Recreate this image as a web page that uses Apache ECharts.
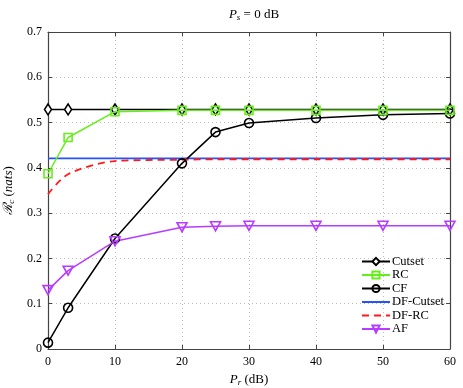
<!DOCTYPE html>
<html>
<head>
<meta charset="utf-8">
<script src="https://cdn.jsdelivr.net/npm/echarts@6/dist/echarts.min.js"></script>
<style>
  html, body { margin: 0; padding: 0; background: #fff; }
  #chart { width: 463px; height: 388px; }
</style>
</head>
<body>
<div id="chart"></div>
<script>
// P_r (dB) sample points
var pr = [0, 3, 10, 20, 25, 30, 40, 50, 60];
var cutset = [0.529, 0.529, 0.529, 0.529, 0.529, 0.529, 0.529, 0.529, 0.529];
var rc = [0.387, 0.467, 0.524, 0.527, 0.527, 0.527, 0.527, 0.527, 0.527];
var cf = [0.014, 0.091, 0.244, 0.410, 0.479, 0.499, 0.510, 0.517, 0.520];
var dfCutset = [0.421, 0.421, 0.421, 0.421, 0.421, 0.421, 0.421, 0.421, 0.421];
var dfRc = [0.342, 0.386, 0.415, 0.418, 0.419, 0.419, 0.419, 0.419, 0.419];
var af = [0.130, 0.173, 0.238, 0.269, 0.271, 0.272, 0.272, 0.272, 0.272];
var xTicks = [0, 10, 20, 30, 40, 50, 60];
var yTicks = [0, 0.1, 0.2, 0.3, 0.4, 0.5, 0.6, 0.7];

function pairs(ys) {
  return pr.map(function (x, i) { return [x, ys[i]]; });
}

var serif = 'Liberation Serif';
var axisCol = '#444';

var chart = echarts.init(document.getElementById('chart'));

function yFmt(v) {
  if (Math.abs(v) < 1e-9) return '0';
  return v.toFixed(1);
}

var richMath = {
  i: { fontFamily: serif, fontStyle: 'italic', fontSize: 13, color: '#000' },
  s: { fontFamily: serif, fontStyle: 'italic', fontSize: 9, color: '#000', padding: [6, 0, 0, 0] },
  n: { fontFamily: serif, fontSize: 13, color: '#000' }
};

var option = {
  animation: false,
  backgroundColor: '#fff',
  title: {
    text: '{i|P}{s|s}{n| = 0 dB}',
    left: 249,
    top: 2,
    textAlign: 'center',
    textStyle: { fontWeight: 'normal', rich: richMath }
  },
  grid: { left: 48, right: 13, top: 32, bottom: 39, outerBoundsMode: 'none', containLabel: false },
  legend: {
    orient: 'vertical',
    left: 356,
    top: 250,
    itemWidth: 28,
    itemHeight: 9,
    itemGap: 0.5,
    textStyle: { fontFamily: serif, fontSize: 12.5, lineHeight: 12, color: '#000', padding: [0, 0, 0, -3] },
    data: [
      'Cutset', 'RC', 'CF',
      { name: 'DF-Cutset', itemStyle: { opacity: 0 } },
      { name: 'DF-RC', itemStyle: { opacity: 0 } },
      'AF'
    ]
  },
  xAxis: [{
    type: 'value', min: 0, max: 60, interval: 10,
    name: '{i|P}{s|r}{n| (dB)}',
    nameLocation: 'middle', nameGap: 22,
    nameTextStyle: { rich: richMath },
    axisLine: { onZero: false, lineStyle: { color: axisCol, width: 1.2 } },
    axisTick: { inside: true, length: 4, lineStyle: { color: axisCol } },
    axisLabel: { fontFamily: serif, fontSize: 12, color: '#000', margin: 7 },
    splitLine: { show: true, lineStyle: { color: '#bbb', type: [1, 3] } }
  }, {
    type: 'value', min: 0, max: 60, interval: 10, position: 'top',
    axisLine: { onZero: false, lineStyle: { color: axisCol, width: 1.2 } },
    axisTick: { inside: true, length: 4, lineStyle: { color: axisCol } },
    axisLabel: { show: false },
    splitLine: { show: false }
  }],
  yAxis: [{
    type: 'value', min: 0, max: 0.7, interval: 0.1,
    name: '{i|\u211B}{s|c}{n| (}{i|nats}{n|)}',
    nameLocation: 'middle', nameGap: 28, nameRotate: 90,
    nameTextStyle: { rich: richMath },
    axisLine: { onZero: false, lineStyle: { color: axisCol, width: 1.2 } },
    axisTick: { inside: true, length: 4, lineStyle: { color: axisCol } },
    axisLabel: { fontFamily: serif, fontSize: 12, color: '#000', margin: 6, formatter: yFmt },
    splitLine: { show: true, lineStyle: { color: '#bbb', type: [1, 3] } }
  }, {
    type: 'value', min: 0, max: 0.7, interval: 0.1, position: 'right',
    axisLine: { show: true, onZero: false, lineStyle: { color: axisCol, width: 1.2 } },
    axisTick: { show: true, inside: true, length: 4, lineStyle: { color: axisCol } },
    axisLabel: { show: false },
    splitLine: { show: false }
  }],
  series: [
    {
      name: 'Cutset', type: 'line', data: pairs(cutset),
      symbol: 'diamond', symbolSize: [7, 11],
      itemStyle: { color: '#fff', borderColor: '#000', borderWidth: 1.6 },
      lineStyle: { color: '#000', width: 1.5 }, z: 3
    },
    {
      name: 'RC', type: 'line', data: pairs(rc),
      symbol: 'rect', symbolSize: 8,
      itemStyle: { color: 'rgba(255,255,255,0)', borderColor: '#66ee1a', borderWidth: 1.6 },
      lineStyle: { color: '#66ee1a', width: 1.5 }, z: 4
    },
    {
      name: 'CF', type: 'line', data: pairs(cf),
      symbol: 'circle', symbolSize: 9,
      itemStyle: { color: 'rgba(255,255,255,0)', borderColor: '#000', borderWidth: 1.6 },
      lineStyle: { color: '#000', width: 1.5 }, z: 3
    },
    {
      name: 'DF-Cutset', type: 'line', data: pairs(dfCutset),
      symbol: 'none', showSymbol: false,
      itemStyle: { color: '#2255ff' },
      lineStyle: { color: '#2255ff', width: 1.8 }, z: 2
    },
    {
      name: 'DF-RC', type: 'line', data: pairs(dfRc), smooth: 0.3,
      symbol: 'none', showSymbol: false,
      itemStyle: { color: '#ff1a1a' },
      lineStyle: { color: '#ff1a1a', width: 1.8, type: [7, 5] }, z: 3
    },
    {
      name: 'AF', type: 'line', data: pairs(af),
      symbol: 'triangle', symbolRotate: 180, symbolSize: [10, 9],
      itemStyle: { color: 'rgba(255,255,255,0)', borderColor: '#b83cff', borderWidth: 1.6 },
      lineStyle: { color: '#b83cff', width: 1.5 }, z: 3
    }
  ]
};

chart.setOption(option);
</script>
</body>
</html>
